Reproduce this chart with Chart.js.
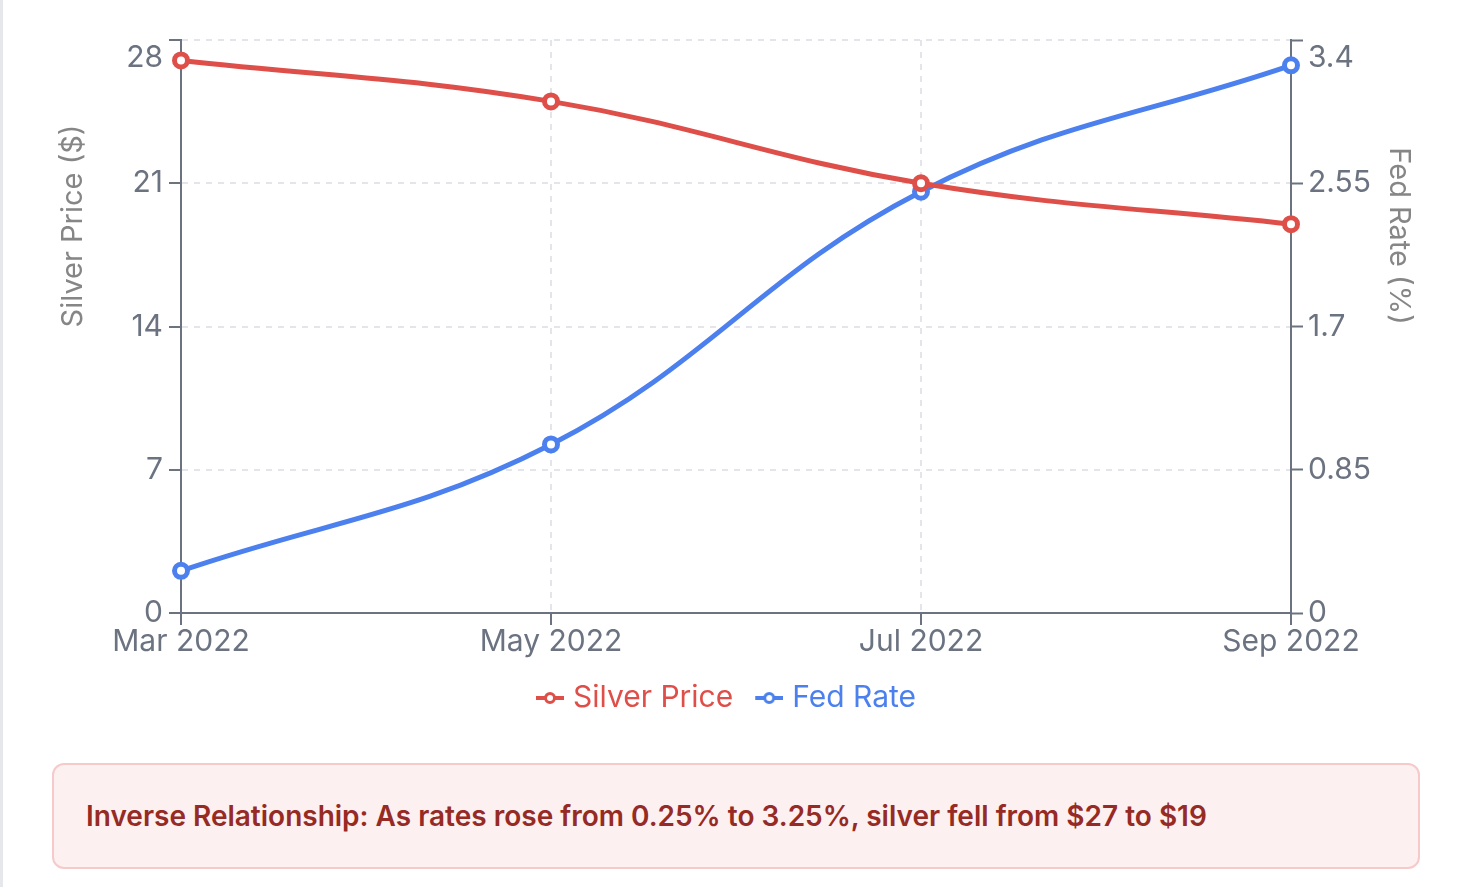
<!DOCTYPE html>
<html>
<head>
<meta charset="utf-8">
<title>Silver Price vs Fed Rate</title>
<script src="https://cdn.jsdelivr.net/npm/chart.js@4.4.1/dist/chart.umd.min.js"></script>
<style>
  html, body { margin: 0; padding: 0; background: #fff; }
  body {
    width: 1469px; height: 887px; overflow: hidden; position: relative;
    font-family: Inter, "Noto Sans", sans-serif;
  }
  .edge { position: absolute; left: 0; top: 0; bottom: 0; width: 3px; background: #e5e7eb; }
  .chart-wrap { position: absolute; left: 52px; top: -2px; width: 1368px; height: 732px; }
  .note {
    position: absolute; left: 52px; top: 763px; width: 1368px; height: 106px;
    box-sizing: border-box; border: 2px solid #f6caca; border-radius: 12px;
    background: #fcf0f0; color: #962a24; font-weight: 600; font-size: 28px;
    display: flex; align-items: center; padding-left: 32px;
  }
</style>
</head>
<body>
<div class="edge"></div>
<div class="chart-wrap"><canvas id="chart"></canvas></div>
<div class="note">Inverse Relationship: As rates rose from 0.25% to 3.25%, silver fell from $27 to $19</div>

<script>
const months = ['Mar 2022', 'May 2022', 'Jul 2022', 'Sep 2022'];
const silverPrice = [27, 25, 21, 19];
const fedRate = [0.25, 1.0, 2.5, 3.25];
const silverTicks = [0, 7, 14, 21, 28];
const fedTicks = [0, 0.85, 1.7, 2.55, 3.4];

const RED = '#df4f49';
const BLUE = '#4b80ee';
const AXIS = '#6b7280';
const GRID = '#e4e5ea';
const FONT = 'Inter, "Noto Sans", sans-serif';

// "-o-" marker for the legend; drawn off-centre so the gap to the text is tighter
function legendMarker(color) {
    const c = document.createElement('canvas');
    c.width = 40;
    c.height = 16;
    const g = c.getContext('2d');
    g.strokeStyle = color;
    g.lineWidth = 4;
    g.beginPath();
    g.moveTo(12, 8);
    g.lineTo(40, 8);
    g.stroke();
    g.fillStyle = '#fff';
    g.lineWidth = 3;
    g.beginPath();
    g.arc(26, 8, 4.5, 0, Math.PI * 2);
    g.fill();
    g.stroke();
    return c;
}

// push the top tick label a line down, like the reference
function tickLabel(max) {
    return (value) => value === max ? ['', String(value)] : String(value);
}

const axisTitles = {
    id: 'axisTitles',
    afterDraw(chart) {
        const { ctx } = chart;
        const y = chart.scales.y;
        ctx.save();
        ctx.font = '29px ' + FONT;
        ctx.fillStyle = '#868686';
        ctx.textAlign = 'center';
        ctx.textBaseline = 'middle';

        ctx.save();
        ctx.translate(y.left + 21, 228);
        ctx.rotate(-Math.PI / 2);
        ctx.fillText('Silver Price ($)', 0, 0);
        ctx.restore();

        ctx.save();
        ctx.translate(chart.width - 21, 238);
        ctx.rotate(Math.PI / 2);
        ctx.fillText('Fed Rate (%)', 0, 0);
        ctx.restore();

        ctx.restore();
    }
};

const tickFont = { family: FONT, size: 30 };

function lineDataset(label, data, axis, color) {
    return {
        label: label,
        data: data,
        yAxisID: axis,
        borderColor: color,
        backgroundColor: color,
        borderWidth: 5,
        tension: 0.4,
        pointRadius: 6.5,
        pointBorderWidth: 5,
        pointBackgroundColor: '#fff',
        pointBorderColor: color
    };
}

const config = {
    type: 'line',
    data: {
        labels: months,
        datasets: [
            lineDataset('Silver Price', silverPrice, 'y', RED),
            lineDataset('Fed Rate', fedRate, 'y1', BLUE)
        ]
    },
    options: {
        responsive: true,
        maintainAspectRatio: false,
        animation: false,
        layout: { padding: { top: 38, bottom: 7, right: 26 } },
        scales: {
            x: {
                afterFit: (scale) => { scale.height += 8; },
                grid: { color: GRID, lineWidth: 2, tickColor: AXIS, tickLength: 12, tickWidth: 2 },
                border: { color: AXIS, width: 2, dash: [6, 6] },
                ticks: { color: AXIS, font: tickFont, padding: -1, maxRotation: 0 }
            },
            y: {
                position: 'left',
                min: 0,
                max: 28,
                afterBuildTicks: (scale) => { scale.ticks = silverTicks.map(v => ({ value: v })); },
                afterFit: (scale) => { scale.width = 129; },
                grid: { color: GRID, lineWidth: 2, tickColor: AXIS, tickLength: 12, tickWidth: 2 },
                border: { color: AXIS, width: 2, dash: [6, 6] },
                ticks: { color: AXIS, font: tickFont, padding: 6, callback: tickLabel(28) }
            },
            y1: {
                position: 'right',
                min: 0,
                max: 3.4,
                afterBuildTicks: (scale) => { scale.ticks = fedTicks.map(v => ({ value: v })); },
                afterFit: (scale) => { scale.width = 103; },
                grid: { drawOnChartArea: false, tickColor: AXIS, tickLength: 12, tickWidth: 2 },
                border: { color: AXIS, width: 2 },
                ticks: { color: AXIS, font: tickFont, padding: 5, callback: tickLabel(3.4) }
            }
        },
        plugins: {
            legend: {
                position: 'bottom',
                labels: {
                    usePointStyle: true,
                    pointStyleWidth: 28,
                    padding: 16,
                    font: { family: FONT, size: 30 },
                    generateLabels: (chart) => chart.data.datasets.map((ds, i) => ({
                        text: ds.label,
                        fontColor: ds.borderColor,
                        fillStyle: ds.borderColor,
                        strokeStyle: ds.borderColor,
                        pointStyle: legendMarker(ds.borderColor),
                        hidden: !chart.isDatasetVisible(i),
                        datasetIndex: i
                    }))
                }
            },
            tooltip: { enabled: false }
        }
    },
    plugins: [axisTitles]
};

new Chart(document.getElementById('chart'), config);
</script>
</body>
</html>
